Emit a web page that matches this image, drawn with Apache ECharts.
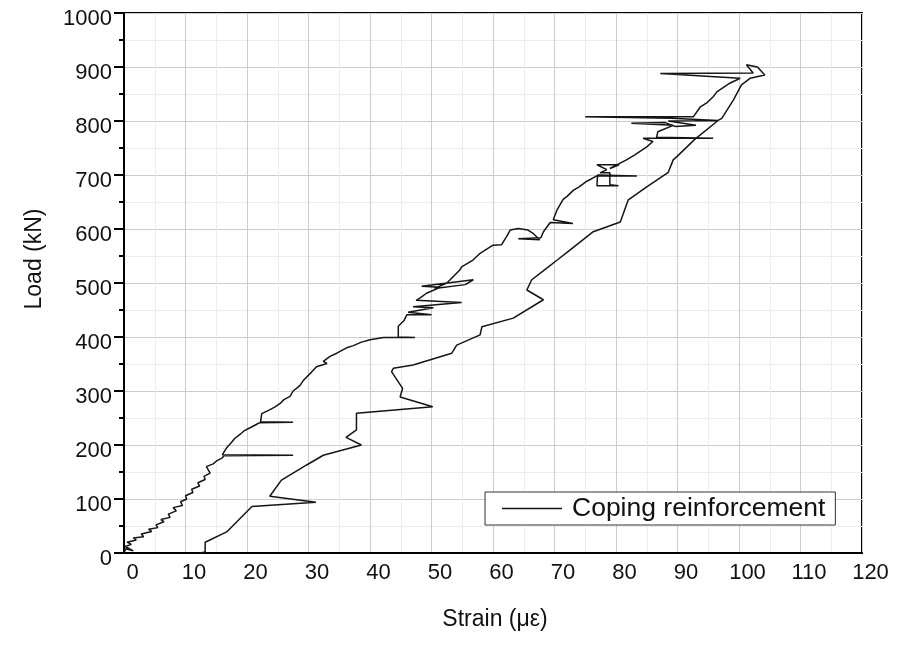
<!DOCTYPE html>
<html>
<head>
<meta charset="utf-8">
<script src="https://cdn.jsdelivr.net/npm/echarts@6/dist/echarts.min.js"></script>
<style>
html,body{margin:0;padding:0;background:#fff;}
#chart{width:898px;height:647px;}
</style>
</head>
<body>
<div id="chart"></div>
<script>
// Loading branch (left curve)
var loadStrain = [0,0.3,1.5,0.2,1.2,0.5,2.0,1.5,3.2,2.8,4.5,4.0,5.5,5.2,6.5,6.0,7.5,7.2,8.5,8.0,9.5,9.2,10.2,10.0,11.2,11.0,12.3,12.0,13.2,13.0,14.0,13.4,14.5,15.0,16.0,16.2,27.5,16.0,16.7,17.5,18.0,18.9,19.5,20.5,21.5,22.0,27.5,22.2,22.4,23.5,24.5,25.4,26.0,27.0,27.5,28.6,29.2,29.7,30.5,31.3,33.0,32.4,33.5,34.6,36.2,37.3,38.5,40.0,42.2,47.3,44.6,44.6,45.5,46.0,50.0,46.2,50.3,47.0,54.9,47.5,48.1,49.2,51.4,48.4,56.8,55.5,50.5,52.5,54.6,54.9,56.8,57.9,60.0,61.4,62.2,62.8,64.1,65.7,66.5,67.6,64.1,67.8,68.2,69.3,73.0,69.8,70.4,71.4,72.0,73.1,74.0,75.2,76.8,83.4,77.0,76.9,80.4,79.0,79.0,77.4,78.5,76.9,80.5,79.0,81.7,83.0,85.0,86.0,84.4,95.8,86.6,86.8,89.3,82.5,88.0,89.6,93.0,88.5,96.6,89.0,75.0,92.6,92.3,93.7,94.7,95.8,96.4,98.5,99.6,100.2,87.2,102.3,101.2,103.0,104.2];
var loadLoad   = [0,8,4,12,16,20,24,28,30,35,40,44,47,52,58,62,66,72,78,84,88,95,100,106,112,118,124,130,136,142,148,160,165,170,176,180,181,182,195,205,212,220,226,232,238,241,242,243,258,264,270,277,284,290,300,310,320,326,335,345,351,355,364,370,380,384,390,395,399,399,400,420,430,441,441,446,454,456,464,468,472,481,492,494,506,497,490,500,524,530,543,555,570,571,586,598,601,598,592,580,582,584,595,612,610,617,635,655,660,672,678,688,698,698,700,680,680,682,704,704,710,719,719,712,728,737,752,762,768,768,770,780,792,796,797,790,792,800,801,805,808,808,811,826,833,845,854,870,876,879,888,889,904,900,885];
// Unloading branch (right curve)
var unloadStrain = [104.2,101.8,100.4,99.1,97.2,96.6,92.8,89.9,89.3,88.5,85.0,82.0,80.7,76.3,72.5,70.5,68.7,66.3,65.5,68.2,63.3,58.2,57.9,54.1,53.3,47.0,43.8,43.5,45.3,44.9,50.2,37.8,37.8,36.1,38.6,32.4,29.7,25.6,23.7,31.2,20.8,16.7,13.2,13.2,12.4];
var unloadLoad   = [885,879,867,839,805,801,766,734,728,705,678,654,613,595,561,543,527,506,487,469,435,419,404,385,370,348,342,336,305,289,271,259,228,214,200,181,163,135,105,94,86,39,20,2,0];

var xTicks = [0,10,20,30,40,50,60,70,80,90,100,110,120];
var yTicks = [0,100,200,300,400,500,600,700,800,900,1000];
var seriesName = 'Coping reinforcement';

var data = [];
for (var i = 0; i < loadStrain.length; i++) data.push([loadStrain[i], loadLoad[i]]);
for (var j = 0; j < unloadStrain.length; j++) data.push([unloadStrain[j], unloadLoad[j]]);

var chart = echarts.init(document.getElementById('chart'), null, {renderer: 'canvas'});
var FONT = '"Liberation Sans", Arial, sans-serif';
chart.setOption({
  animation: false,
  backgroundColor: '#fff',
  grid: {left: 124, right: 36, top: 13, bottom: 94, show: true, borderColor: '#000', borderWidth: 2, backgroundColor: 'transparent'},
  xAxis: {
    type: 'value', min: xTicks[0], max: xTicks[xTicks.length-1], interval: 10,
    axisLine: {show: true, onZero: false, lineStyle: {color: '#000', width: 2}},
    axisTick: {show: false},
    minorTick: {show: false, splitNumber: 2},
    axisLabel: {color: '#111', fontSize: 22, fontFamily: FONT, margin: 9, padding: [0,0,0,17], formatter: function(v){return String(v);}},
    splitLine: {show: true, lineStyle: {color: '#cdcdcd', width: 1}},
    minorSplitLine: {show: true, lineStyle: {color: '#ededed', width: 1}}
  },
  yAxis: {
    type: 'value', min: yTicks[0], max: yTicks[yTicks.length-1], interval: 100,
    axisLine: {show: true, onZero: false, lineStyle: {color: '#000', width: 2}},
    axisTick: {show: true, inside: false, length: 10, lineStyle: {color: '#000', width: 2}},
    minorTick: {show: true, splitNumber: 2, length: 5, lineStyle: {color: '#000', width: 2}},
    axisLabel: {color: '#111', fontSize: 22, fontFamily: FONT, margin: 12, verticalAlign: 'top', lineHeight: 12, formatter: function(v){return String(v);}},
    splitLine: {show: true, lineStyle: {color: '#cdcdcd', width: 1}},
    minorSplitLine: {show: true, lineStyle: {color: '#ededed', width: 1}}
  },
  legend: {
    show: true, left: 485, top: 492, orient: 'horizontal',
    data: [{name: seriesName, icon: 'rect'}],
    itemWidth: 60, itemHeight: 1.4,
    backgroundColor: '#fff', borderColor: '#333', borderWidth: 1,
    padding: [3, 10, 3, 17],
    textStyle: {color: '#111', fontSize: 26.5, fontFamily: FONT, lineHeight: 27, padding: [0,0,0,5]}
  },
  graphic: [
    {type: 'text', x: 35, y: 259, rotation: Math.PI/2, style: {text: 'Load (kN)', font: '23px "Liberation Sans", Arial, sans-serif', fill: '#111', textAlign: 'center', textVerticalAlign: 'middle'}},
    {type: 'text', x: 495, y: 620, style: {text: 'Strain (με)', font: '23px "Liberation Sans", Arial, sans-serif', fill: '#111', textAlign: 'center', textVerticalAlign: 'middle'}}
  ],
  series: [{
    name: seriesName, type: 'line', data: data,
    showSymbol: false, symbol: 'none',
    lineStyle: {color: '#151515', width: 1.5},
    itemStyle: {color: '#151515'},
    z: 3
  }]
});
</script>
</body>
</html>
